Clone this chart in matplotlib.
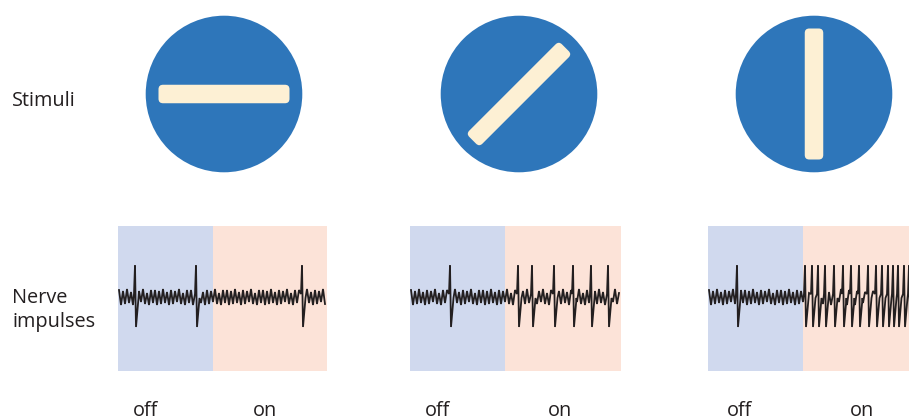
import matplotlib
matplotlib.use("Agg")
import matplotlib.pyplot as plt
from matplotlib.patches import Circle, FancyBboxPatch
from matplotlib.transforms import Affine2D
import numpy as np

# ---------------- data ----------------
stimulus_angles = [0, 45, 90]            # orientation of the light bar (degrees)
off_duration = 95                        # ms, stimulus off
on_durations = [114, 116, 114]           # ms, stimulus on
spikes_panel1 = [17, 78, 184]
spikes_panel2 = [40, 108, 122, 144, 163, 181, 198]
spikes_panel3 = [29, 97, 104, 110, 117, 126, 135, 143, 151, 160, 168, 174, 180, 185, 190, 196, 201, 206]
spike_trains = [spikes_panel1, spikes_panel2, spikes_panel3]
noise_pattern = [7, -8, 6, -7, 8, -6, 5, -8, 7, -7, 6, -5, 8, -7, 4, -8, 7, -6]
row_labels = ["Stimuli", "Nerve\nimpulses"]
state_labels = ["off", "on"]

# ---------------- style ----------------
W, H = 909, 420
fig = plt.figure(figsize=(W / 100, H / 100), dpi=100)
plt.rcParams['font.family'] = ['Open Sans', 'DejaVu Sans']
text_color = "#231f20"
circle_color = "#2e76ba"
bar_color = "#fdf0d4"
off_color = "#d0d9ee"
on_color = "#fce3d8"
fs = 14.3


def px_axes(x0, y0, w, h):
    ax = fig.add_axes([x0 / W, 1 - (y0 + h) / H, w / W, h / H])
    ax.set_axis_off()
    return ax


circle_centers_x = [224, 519, 814]
box_x0 = [118, 410, 708]
off_label_x = [145, 438, 740]
on_label_x = [265, 560, 862]

# stimuli
for cx, ang in zip(circle_centers_x, stimulus_angles):
    ax = px_axes(cx - 80, 94 - 80, 160, 160)
    ax.set_xlim(-80, 80)
    ax.set_ylim(-80, 80)
    ax.add_patch(Circle((0, 0), 78.3, color=circle_color, lw=0))
    L, t = 131, 18.5
    bar = FancyBboxPatch((-L / 2, -t / 2), L, t,
                         boxstyle="round,pad=0,rounding_size=4.5",
                         fc=bar_color, ec="none",
                         transform=Affine2D().rotate_deg(ang) + ax.transData)
    ax.add_patch(bar)

# nerve impulse traces
for x0, spikes, on_d in zip(box_x0, spike_trains, on_durations):
    total = off_duration + on_d
    ax = px_axes(x0, 226, total, 145)
    ax.set_xlim(0, total)
    ax.set_ylim(-74, 71)
    ax.axvspan(0, off_duration, color=off_color, lw=0)
    ax.axvspan(off_duration, total, color=on_color, lw=0)
    ts = np.arange(1, total, 2.0)
    pts = [(tt, noise_pattern[i % len(noise_pattern)]) for i, tt in enumerate(ts)]
    for s in spikes:
        pts = [p for p in pts if not (s - 1.5 < p[0] < s + 3.5)]
        pts += [(s - 1.0, 3), (s, 31.5), (s + 1.0, -30), (s + 3.5, -1)]
    pts.sort()
    xs, ys = zip(*pts)
    ax.plot(xs, ys, color=text_color, lw=1.3, solid_joinstyle="miter")
    ax.set_xlim(0, total)

# labels
fig.text(12 / W, 1 - 101 / H, row_labels[0], fontsize=fs, color=text_color,
         ha="left", va="center")
fig.text(12 / W, 1 - 310 / H, row_labels[1], fontsize=fs, color=text_color,
         ha="left", va="center", linespacing=1.25)
for xo, xn in zip(off_label_x, on_label_x):
    fig.text(xo / W, 1 - 411 / H, state_labels[0], fontsize=fs, color=text_color,
             ha="center", va="center")
    fig.text(xn / W, 1 - 411 / H, state_labels[1], fontsize=fs, color=text_color,
             ha="center", va="center")

fig.savefig("out.png", dpi=100)
